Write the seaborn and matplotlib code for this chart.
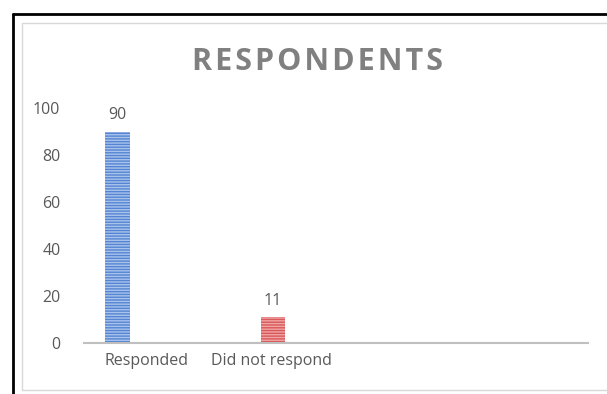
import matplotlib
matplotlib.use("Agg")
import matplotlib.pyplot as plt
import seaborn as sns
import pandas as pd
from matplotlib.lines import Line2D

categories = ["Responded", "Did not respond"]
values = [90, 11]
yticks = [0, 20, 40, 60, 80, 100]

sns.set_theme(style="white")
plt.rcParams['font.family'] = ['Open Sans', 'DejaVu Sans']
plt.rcParams['hatch.linewidth'] = 1.0

W, H = 607, 394
fig = plt.figure(figsize=(W / 100, H / 100), dpi=100)
fig.patch.set_facecolor("white")

def fx(px):
    return px / W

def fy(py):
    return 1 - py / H

# axes: x from 84 to 588 px, y from 343 (0) to 108 (100)
ax = fig.add_axes([fx(84), fy(343), fx(588) - fx(84), fy(108) - fy(343)])
ax.set_facecolor("none")

df = pd.DataFrame({"cat": categories, "val": values})
colors = ["#5585d2", "#d9585a"]
hatch_colors = ["#a9c3ec", "#f0a5a5"]
sns.barplot(data=df, x="cat", y="val", hue="cat", palette=colors, legend=False,
            width=0.16, ax=ax, saturation=1)

for bar, hc in zip(ax.patches, hatch_colors):
    bar.set_hatch("------")
    bar.set_edgecolor(hc)
    bar.set_linewidth(0)

tcol = "#595959"
ax.set_xlim(-0.212, 3.02)
ax.set_ylim(0, 100)
ax.set_yticks(yticks)
ax.set_yticklabels([str(t) for t in yticks], color=tcol, fontsize=11.5)
ax.tick_params(axis="y", length=0, pad=17)
ax.set_xticks([0.19, 0.99])
ax.set_xticklabels(categories, color=tcol, fontsize=11.5)
ax.tick_params(axis="x", length=0, pad=7)
ax.set_xlabel("")
ax.set_ylabel("")
for s in ["top", "right", "left"]:
    ax.spines[s].set_visible(False)
ax.spines["bottom"].set_color("#bfbfbf")
ax.spines["bottom"].set_linewidth(1.5)

for i, v in enumerate(values):
    ax.annotate(str(v), (i, v), xytext=(0, 6), textcoords="offset points",
                ha="center", va="bottom", color=tcol, fontsize=11.5)

fig.text(fx(318), fy(62), "\u200a".join("RESPONDENTS"),
         ha="center", va="center", fontsize=22, fontweight="bold", color="#808080")

# borders
fig.add_artist(Line2D([fx(13), fx(13)], [fy(14), 0], color="black", lw=2, transform=fig.transFigure))
fig.add_artist(Line2D([fx(13), 1], [fy(14), fy(14)], color="black", lw=2, transform=fig.transFigure))
fig.add_artist(Line2D([fx(21.5), fx(21.5)], [fy(23), fy(390)], color="#d9d9d9", lw=1, transform=fig.transFigure))
fig.add_artist(Line2D([fx(21.5), 1], [fy(23), fy(23)], color="#d9d9d9", lw=1, transform=fig.transFigure))
fig.add_artist(Line2D([fx(21.5), 1], [fy(390), fy(390)], color="#d9d9d9", lw=1, transform=fig.transFigure))

fig.savefig("out.png", dpi=100)
